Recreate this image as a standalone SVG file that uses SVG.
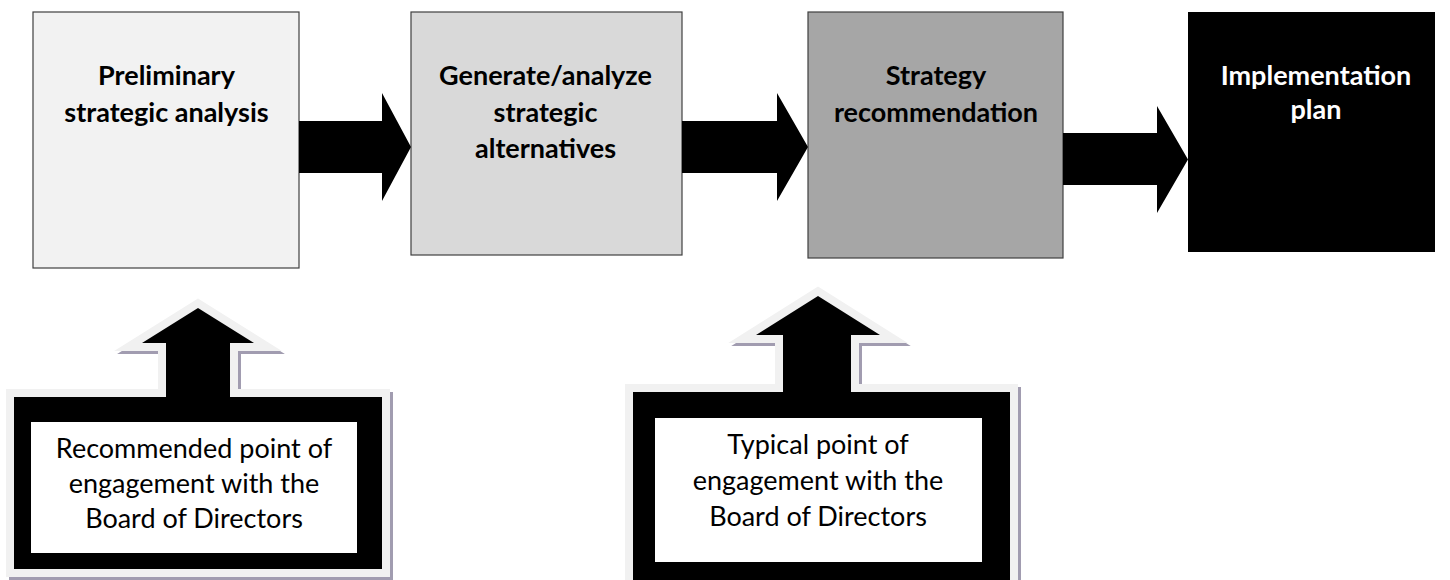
<svg xmlns="http://www.w3.org/2000/svg" width="1450" height="580" viewBox="0 0 1450 580">
<style>
.box{stroke:#404040;stroke-width:1.2}
.title{font-family:Lato,"Open Sans","Liberation Sans",sans-serif;font-weight:bold;font-size:27px;text-anchor:middle;fill:#000}
.note{font-family:Lato,"Open Sans","Liberation Sans",sans-serif;font-size:27px;text-anchor:middle;fill:#000}
.arrow{fill:#000}
.shadow{fill:#a19cb0;stroke:#a19cb0;stroke-width:16;stroke-linejoin:miter}
.halo{fill:#000;stroke:#f1f1f1;stroke-width:16;stroke-linejoin:miter;paint-order:stroke fill}
</style>
<rect width="1450" height="580" fill="#fff"/>
<g id="node1">
<rect class="box" x="33" y="12" width="266" height="256" fill="#f2f2f2"/>
<text class="title" x="166.5" y="85">Preliminary</text>
<text class="title" x="166.5" y="122">strategic analysis</text>
</g>
<g id="node2">
<rect class="box" x="411" y="12" width="271" height="243" fill="#d9d9d9"/>
<text class="title" x="545.5" y="85">Generate/analyze</text>
<text class="title" x="545.5" y="122">strategic</text>
<text class="title" x="545.5" y="158">alternatives</text>
</g>
<g id="node3">
<rect class="box" x="808" y="12" width="255" height="246" fill="#a6a6a6"/>
<text class="title" x="936" y="85">Strategy</text>
<text class="title" x="936" y="122">recommendation</text>
</g>
<g id="node4">
<rect x="1188" y="12" width="247" height="240" fill="#000"/>
<text class="title" x="1316" y="85" style="fill:#fff">Implementation</text>
<text class="title" x="1316" y="119" style="fill:#fff">plan</text>
</g>
<g id="connectors">
<path class="arrow" d="M299,121 H382 V93 L411,147 L382,201 V173 H299 Z"/>
<path class="arrow" d="M682,121 H777 V93 L808,147 L777,201 V173 H682 Z"/>
<path class="arrow" d="M1063,133 H1157 V106 L1188,159.5 L1157,213 V185 H1063 Z"/>
</g>
<g id="callout1">
<path class="shadow" transform="translate(3,3)" d="M14,397 H166 V343 H142 L198,308 L254,343 H230 V397 H382 V569 H14 Z"/>
<path class="halo" d="M14,397 H166 V343 H142 L198,308 L254,343 H230 V397 H382 V569 H14 Z"/>
<rect x="31" y="422" width="326" height="131" fill="#fff"/>
<text class="note" x="194" y="458">Recommended point of</text>
<text class="note" x="194" y="493">engagement with the</text>
<text class="note" x="194" y="528">Board of Directors</text>
</g>
<g id="callout2">
<path class="shadow" transform="translate(3,3)" d="M633,392 H783 V335 H756 L818,296 L880,335 H851 V392 H1010 V590 H633 Z"/>
<path class="halo" d="M633,392 H783 V335 H756 L818,296 L880,335 H851 V392 H1010 V590 H633 Z"/>
<rect x="655" y="418" width="327" height="144" fill="#fff"/>
<text class="note" x="818" y="454">Typical point of</text>
<text class="note" x="818" y="490">engagement with the</text>
<text class="note" x="818" y="526">Board of Directors</text>
</g>
</svg>
